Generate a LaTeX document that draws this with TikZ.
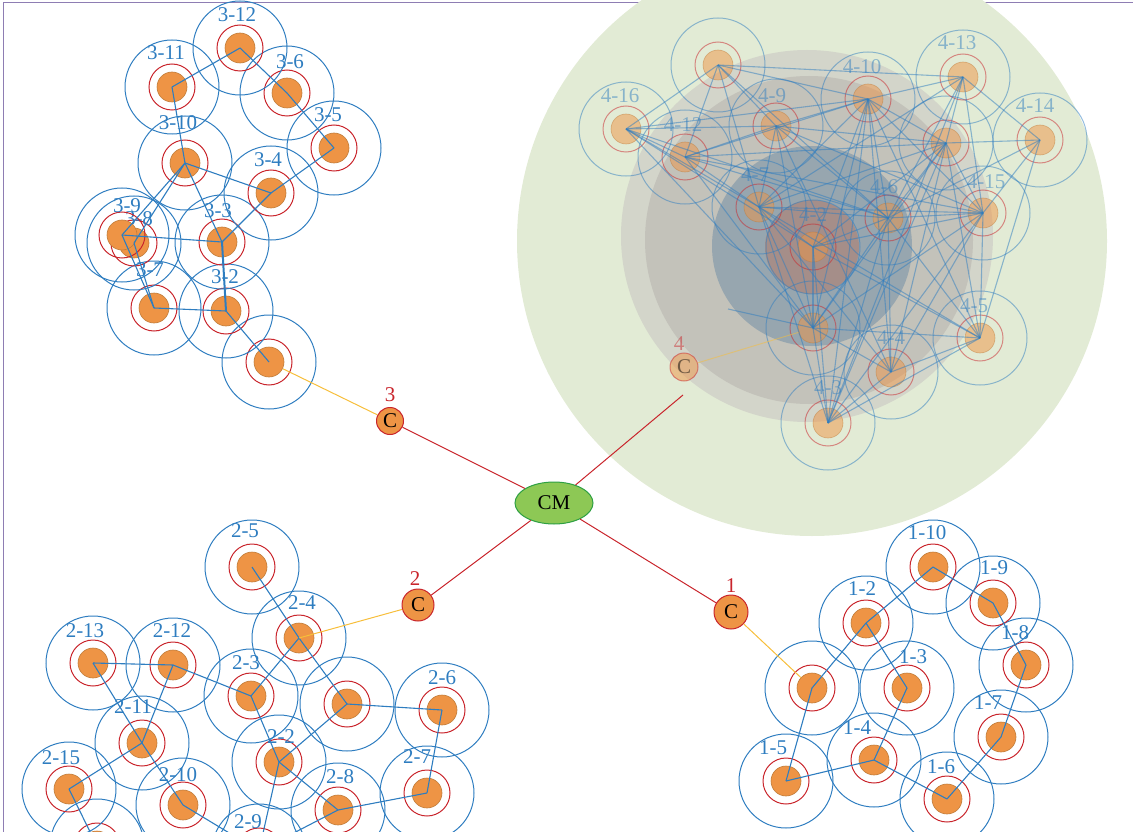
\documentclass[tikz,border=0pt]{standalone}
\usepackage{fontspec}
\setmainfont{Liberation Serif}
\usetikzlibrary{shapes.geometric}

\definecolor{coreorange}{HTML}{EE9445}
\definecolor{coreedge}{HTML}{C07C3A}
\definecolor{ringred}{HTML}{C9252C}
\definecolor{ringblue}{HTML}{2E7DC0}
\definecolor{linkyellow}{HTML}{F7BE3A}
\definecolor{cmfill}{HTML}{8DC855}
\definecolor{cmedge}{HTML}{2EA043}
\definecolor{framepurple}{HTML}{8E7DB3}
\definecolor{zonegreen}{HTML}{E2EBD5}
\definecolor{zonegreyA}{HTML}{D3D5CA}
\definecolor{zonegreyB}{HTML}{C3C2BA}
\definecolor{zoneblue}{HTML}{97A6AF}
\definecolor{zonemauve}{HTML}{A58E89}

\tikzset{
  core/.style={circle, fill=coreorange, draw=coreedge, line width=0.6pt, minimum size=30pt, inner sep=0pt},
  inring/.style={draw=ringred, line width=1pt},
  outring/.style={draw=ringblue, line width=1pt},
  link/.style={draw=ringblue, line width=1.1pt},
  lbl/.style={text=ringblue, font=\fontsize{21}{25}\selectfont, inner sep=0pt},
  head/.style={circle, fill=coreorange, draw=ringred, line width=1pt, inner sep=0pt, font=\fontsize{21}{25}\selectfont},
  headlbl/.style={text=ringred, font=\fontsize{21}{25}\selectfont, inner sep=0pt},
  backbone/.style={draw=ringred, line width=1pt},
  uplink/.style={draw=linkyellow, line width=1pt}
}

\begin{document}
\begin{tikzpicture}[x=1pt, y=-1pt]
\useasboundingbox (0,0) rectangle (1133,832);

% frame
\draw[framepurple, line width=1pt] (1133,3) -- (3,3) -- (3,832);

% cluster 4 zone
\fill[zonegreen] (812,241) circle (295pt);
\fill[zonegreyA] (807,236) circle (186pt);
\fill[zonegreyB] (809,240) circle (164pt);
\fill[zoneblue] (812,246) circle (100pt);
\fill[zonemauve] (812,247) circle (47pt);

% cluster 4 (faded)
\begin{scope}[opacity=0.5]
\foreach \n/\x/\y in {s1/813/328, s2/813/247, s3/828/423, s4/891/372, s5/980/338,
    s6/888/218, s7/759/207, s8/718/65, s9/776/126, s10/868/99, s11/946/143,
    s12/685/157, s13/963/77, s14/1040/140, s15/983/213, s16/626/129} {
  \draw[outring] (\x,\y) circle (47pt);
  \draw[inring] (\x,\y) circle (23pt);
  \node[core] (\n) at (\x,\y) {};
}
\foreach \n/\x/\y/\t in {s2/813/215/4-2, s3/828/388/4-3, s4/891/338/4-4, s5/974/306/4-5,
    s6/884/187/4-6, s7/755/175/4-7, s9/772/96/4-9, s10/862/67/4-10, s12/683/125/4-12,
    s13/957/43/4-13, s14/1035/106/4-14, s15/986/182/4-15, s16/620/96/4-16}
  \node[lbl] (t\n) at (\x,\y) {\t};
\foreach \a/\b in {s1/s2, s1/s3, s1/s4, s1/s5, s1/s6, s1/s7, s1/s9, s1/s10, s1/s11, s1/s12, s1/s15, s1/s16,
    s2/s3, s2/s5, s2/s6, s2/s7, s2/s10, s2/s11, s2/s15, s2/s16,
    s3/s4, s3/s5, s3/s6, s3/s7, s3/s10, s3/s11, s3/s13, s3/s15,
    s4/s5, s4/s6, s4/s7, s4/s9, s4/s10, s4/s11, s4/s15,
    s5/s6, s5/s7, s5/s10, s5/s11, s5/s14, s5/s15,
    s6/s7, s6/s8, s6/s9, s6/s10, s6/s11, s6/s12, s6/s13, s6/s14, s6/s15, s6/s16,
    s7/s8, s7/s9, s7/s10, s7/s11, s7/s12, s7/s13, s7/s15, s7/s16,
    s8/s9, s8/s10, s8/s12, s8/s13, s8/s16,
    s9/s10, s9/s11, s9/s12, s9/s15, s9/s16,
    s10/s11, s10/s12, s10/s13, s10/s15, s10/s16,
    s11/s12, s11/s13, s11/s14, s11/s15,
    s12/s15, s12/s16, s13/s14, s13/s15, s14/s15}
  \draw[link] (\a.center) -- (\b.center);
\coordinate (s1end) at (728,309);
\draw[link] (s1.center) -- (s1end);

% cluster head 4
\node[head, minimum size=28pt] (c4) at (684,367) {C};
\node[headlbl] (t4) at (679,344) {4};
\draw[uplink] (c4) -- (s1);
\end{scope}

% cluster 1
\foreach \n/\x/\y in {p1/812/688, p2/866/623, p3/907/688, p4/874/760, p5/786/781,
    p6/947/799, p7/1001/737, p8/1026/665, p9/993/603, p10/933/567} {
  \draw[outring] (\x,\y) circle (47pt);
  \draw[inring] (\x,\y) circle (23pt);
  \node[core] (\n) at (\x,\y) {};
}
\foreach \n/\x/\y/\t in {p2/862/589/1-2, p3/913/657/1-3, p4/857/728/1-4, p5/773/748/1-5,
    p6/941/767/1-6, p7/988/703/1-7, p8/1015/633/1-8, p9/994/568/1-9, p10/927/533/1-10}
  \node[lbl] (t\n) at (\x,\y) {\t};
\foreach \a/\b in {p10/p2, p10/p9, p9/p8, p8/p7, p7/p6, p2/p1, p2/p3, p1/p5, p3/p4, p4/p5, p4/p6}
  \draw[link] (\a.center) -- (\b.center);

% cluster 2
\foreach \n/\x/\y in {q1/347/704, q2/279/762, q3/251/696, q4/299/638, q5/252/567,
    q6/442/710, q7/427/793, q8/338/810, q9/259/851, q10/183/805, q11/142/743,
    q12/173/665, q13/93/663, q14/97/846, q15/69/789} {
  \draw[outring] (\x,\y) circle (47pt);
  \draw[inring] (\x,\y) circle (23pt);
  \node[core] (\n) at (\x,\y) {};
}
\foreach \n/\x/\y/\t in {q2/281/737/2-2, q3/246/663/2-3, q4/302/603/2-4, q5/245/531/2-5,
    q6/442/678/2-6, q7/417/757/2-7, q8/340/777/2-8, q9/248/822/2-9, q10/178/775/2-10,
    q11/133/707/2-11, q12/172/631/2-12, q13/85/631/2-13, q15/61/758/2-15}
  \node[lbl] (t\n) at (\x,\y) {\t};
\foreach \a/\b in {q5/q4, q4/q3, q4/q1, q13/q12, q12/q3, q12/q11, q13/q11, q11/q15, q11/q10,
    q15/q14, q10/q9, q3/q2, q1/q2, q1/q6, q6/q7, q7/q8, q2/q8, q2/q9, q8/q9}
  \draw[link] (\a.center) -- (\b.center);

% cluster 3 (3-8 sits under 3-9)
\foreach \n/\x/\y in {r1/269/362, r2/226/311, r3/222/242, r4/271/193, r5/334/148,
    r6/287/93, r7/154/308, r8/134/243} {
  \draw[outring] (\x,\y) circle (47pt);
  \draw[inring] (\x,\y) circle (23pt);
  \node[core] (\n) at (\x,\y) {};
}
\node[lbl] (tr8) at (139,219) {3-8};
\foreach \n/\x/\y in {r9/122/235, r10/185/163, r11/172/87, r12/240/48} {
  \draw[outring] (\x,\y) circle (47pt);
  \draw[inring] (\x,\y) circle (23pt);
  \node[core] (\n) at (\x,\y) {};
}
\foreach \n/\x/\y/\t in {r2/225/277/3-2, r3/218/211/3-3, r4/268/160/3-4, r5/328/115/3-5,
    r6/290/62/3-6, r7/150/270/3-7, r9/127/206/3-9, r10/178/123/3-10,
    r11/166/53/3-11, r12/237/15/3-12}
  \node[lbl] (t\n) at (\x,\y) {\t};
\foreach \a/\b in {r12/r11, r12/r6, r6/r5, r5/r4, r4/r10, r11/r10, r10/r3, r4/r3, r10/r9,
    r10/r8, r3/r9, r2/r7, r7/r9, r7/r8, r2/r1}
  \draw[link] (\a.center) -- (\b.center);
\draw[link, line width=2pt] (r3.center) -- (r2.center);

% cluster heads and sink
\node[ellipse, fill=cmfill, draw=cmedge, line width=1pt, minimum width=78pt, minimum height=42pt,
  inner sep=0pt, font=\fontsize{21}{25}\selectfont] (cm) at (554,503) {CM};
\node[head, minimum size=34pt] (c1) at (731,612) {C};
\node[headlbl] (t1) at (731,586) {1};
\node[head, minimum size=32pt] (c2) at (418,605) {C};
\node[headlbl] (t2) at (415,579) {2};
\node[head, minimum size=27pt] (c3) at (390,421) {C};
\node[headlbl] (t3) at (390,395) {3};
\coordinate (c4end) at (683,395);

\draw[backbone] (cm) -- (c1);
\draw[backbone] (cm) -- (c2);
\draw[backbone] (cm) -- (c3);
\draw[backbone] (cm) -- (c4end);

\draw[uplink] (c1) -- (p1);
\draw[uplink] (c2) -- (q4.center);
\draw[uplink] (c3) -- (r1);

\end{tikzpicture}
\end{document}
